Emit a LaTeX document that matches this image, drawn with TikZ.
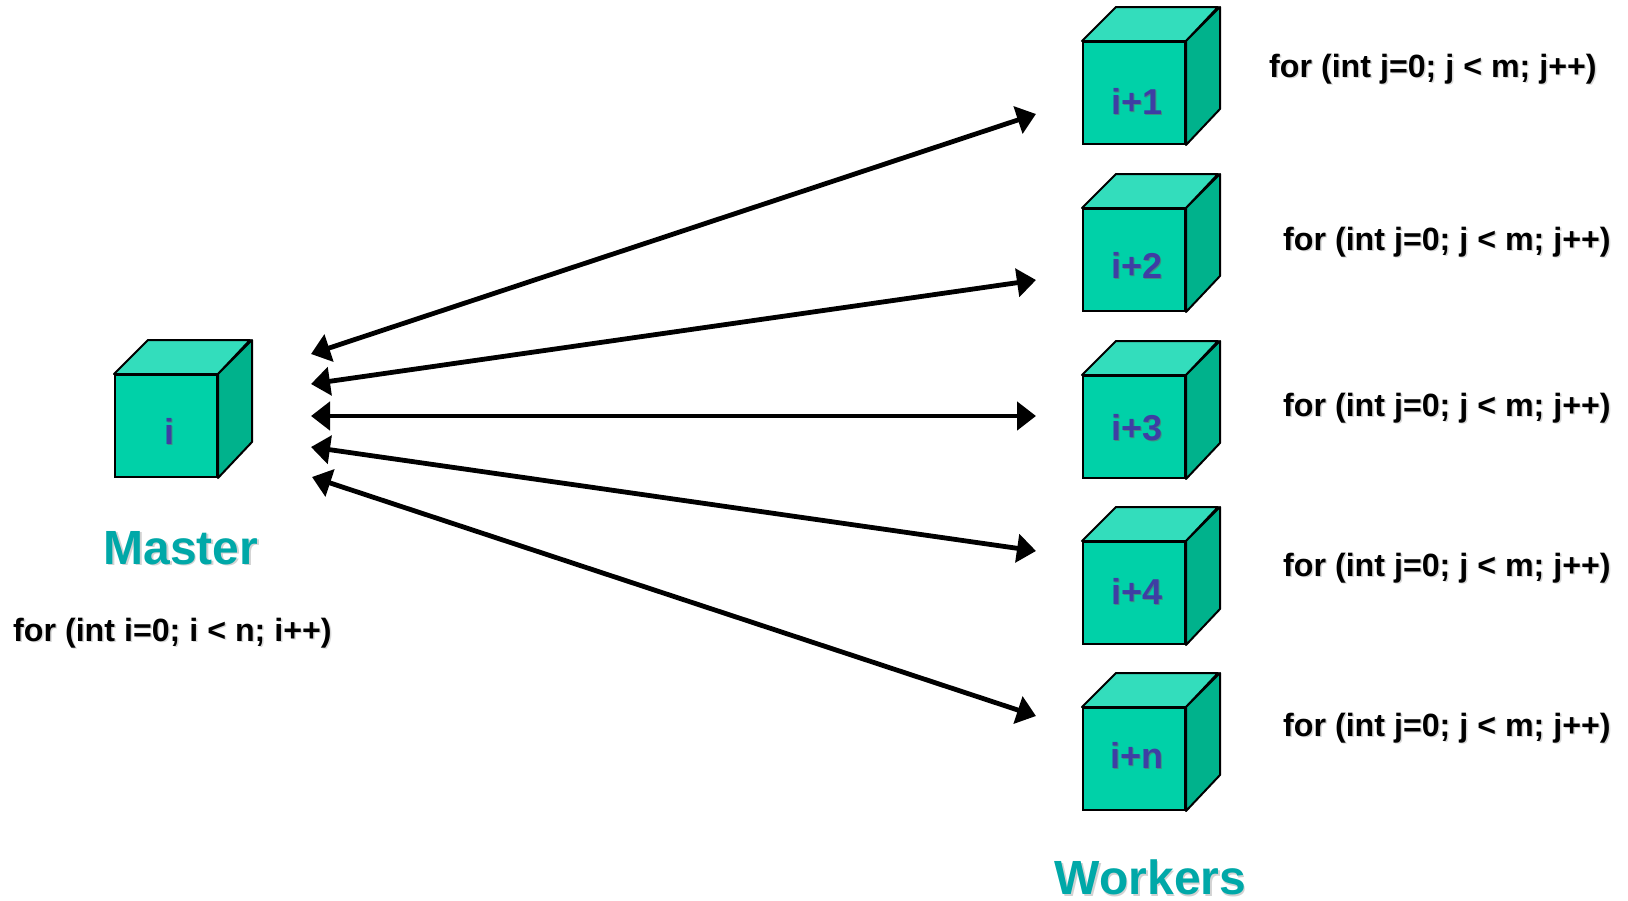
\documentclass[tikz,border=0pt]{standalone}
\usepackage{fontspec}
\setmainfont{Liberation Sans}
\usetikzlibrary{arrows.meta}

\definecolor{facefront}{RGB}{0,209,168}
\definecolor{facetop}{RGB}{51,221,188}
\definecolor{faceside}{RGB}{0,178,140}
\definecolor{labelblue}{RGB}{62,62,164}
\definecolor{titleteal}{RGB}{0,168,168}

\tikzset{
  cubefront/.style={draw=black, line width=2pt, fill=facefront, minimum width=102pt,
    minimum height=102pt, inner sep=0pt, anchor=north west},
  cubetopface/.style={draw=black, line width=2pt, fill=facetop, line join=round},
  cubesideface/.style={draw=black, line width=2pt, fill=faceside, line join=round},
  cubelabel/.style={anchor=base, inner sep=0pt, text=labelblue,
    font=\fontsize{36}{40}\selectfont\bfseries},
  cubelabelshadow/.style={anchor=base, inner sep=0pt, text=black!60, opacity=0.6,
    font=\fontsize{36}{40}\selectfont\bfseries},
  title/.style={anchor=base, inner sep=0pt, text=titleteal,
    font=\fontsize{48}{52}\selectfont\bfseries},
  titleshadow/.style={anchor=base, inner sep=0pt, text=black!35, opacity=0.5,
    font=\fontsize{48}{52}\selectfont\bfseries},
  loop/.style={anchor=base west, inner sep=0pt, text=black,
    font=\fontsize{32.2}{36}\selectfont\bfseries},
  loopshadow/.style={anchor=base west, inner sep=0pt, text=black!30, opacity=0.5,
    font=\fontsize{32.2}{36}\selectfont\bfseries},
  link/.style={line width=4.8pt, {Triangle[length=19pt,width=28pt]}-{Triangle[length=19pt,width=28pt]}},
}

% A cube: front face at (x,y) top-left, 102 wide, receding 34 up and right;
% the last argument is the label's baseline below the front face's top edge
\newcommand\cubebox[5]{%
  \node[cubefront] (#1) at (#2,#3) {};
  \filldraw[cubetopface] (#1.north west) -- ++(34,-34) -- ++(102,0) -- (#1.north east) -- cycle;
  \filldraw[cubesideface] (#1.north east) -- ++(34,-34) -- ++(0,102) -- (#1.south east) -- cycle;
  \node[cubelabelshadow] (#1-ls) at ([shift={(4.3,#5+1.3)}]#1.north) {#4};
  \node[cubelabel] (#1-l) at ([shift={(3,#5)}]#1.north) {#4};
}

\begin{document}
\begin{tikzpicture}[x=1pt, y=-1pt]
  \useasboundingbox (0,0) rectangle (1628,900);

  % master
  \cubebox{master}{114}{374}{i}{70}
  \node[titleshadow] (mtitle-s) at (182.5,565.5) {Master};
  \node[title] (mtitle) at (181,564) {Master};
  \node[loopshadow] (mloop-s) at (14.5,642.5) {for (int i=0; i < n; i++)};
  \node[loop] (mloop) at (13,641) {for (int i=0; i < n; i++)};

  % workers
  \cubebox{w1}{1082}{41}{i+1}{73}
  \cubebox{w2}{1082}{208}{i+2}{70}
  \cubebox{w3}{1082}{375}{i+3}{65}
  \cubebox{w4}{1082}{541}{i+4}{63}
  \cubebox{w5}{1082}{707}{i+n}{61}

  \node[titleshadow] (wtitle-s) at (1152,896) {Workers};
  \node[title] (wtitle) at (1150.5,894.5) {Workers};

  \foreach \n/\x/\y in {w1/1269/77, w2/1283/250, w3/1283/416, w4/1283/576, w5/1283/736} {
    \node[loopshadow] (\n-loop-s) at (\x+1.5,\y+1.5) {for (int j=0; j < m; j++)};
    \node[loop] (\n-loop) at (\x,\y) {for (int j=0; j < m; j++)};
  }

  % message ends near the master and near each worker
  \coordinate (m1) at (311,354);  \coordinate (e1) at (1036,114);
  \coordinate (m2) at (311,384);  \coordinate (e2) at (1036,280);
  \coordinate (m3) at (311,416);  \coordinate (e3) at (1036,416);
  \coordinate (m4) at (311,447);  \coordinate (e4) at (1036,551);
  \coordinate (m5) at (312,477);  \coordinate (e5) at (1036,716);

  \foreach \k in {1,...,5} {
    \draw[link] (m\k) -- (e\k);
  }
\end{tikzpicture}
\end{document}
